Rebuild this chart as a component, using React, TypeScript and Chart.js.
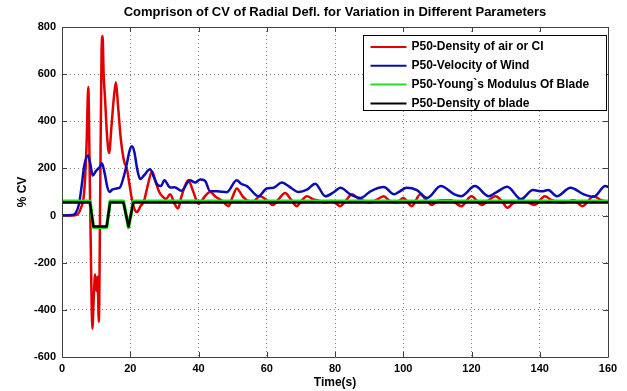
import React, { useEffect, useRef } from 'react';
import { Chart, registerables } from 'chart.js';

Chart.register(...registerables);

const TITLE = 'Comprison of CV of Radial Defl. for Variation in Different Parameters';
const X_TITLE = 'Time(s)';
const Y_TITLE = '% CV';
const SERIES_NAMES = [
  'P50-Density of air or CI',
  'P50-Velocity of Wind',
  'P50-Young`s Modulus Of Blade',
  'P50-Density of blade',
];
const X_TICKS = [0, 20, 40, 60, 80, 100, 120, 140, 160];
const Y_TICKS = [-600, -400, -200, 0, 200, 400, 600, 800];

const redTimes = [0, 3, 4.5, 5.5, 6.5, 7.2, 7.7, 8.1, 8.5, 8.9, 9.3, 9.7, 10.1, 10.4, 10.8, 11.2, 11.6, 11.9, 12.2, 12.6, 13.2, 13.8, 14.5, 15.2, 15.8, 16.4, 17.2, 18.2, 19, 19.8, 20.5, 21.3, 22, 23, 24, 25, 26.4, 27.5, 28.5, 29.5, 30.5, 31.7, 33, 34, 35, 37, 38.5, 40, 41.9, 43.4, 45, 47, 48.8, 50, 51.2, 53, 54.2, 56, 58, 60, 61.8, 63.5, 65.4, 67, 68.8, 70, 71.8, 73.5, 75.5, 77, 79, 81.6, 83, 85, 87, 88.5, 90.4, 92, 94.3, 96, 98, 100, 102.5, 105, 106.5, 108.4, 110, 112, 114, 117, 120, 123, 125, 127, 129, 130.5, 132, 134, 136, 138.5, 141.5, 143.5, 147, 150, 152.5, 155.8, 158, 160];
const redValues = [0, 0, 5, 30, 100, 300, 545, 200, -200, -480, -350, -250, -320, -260, -450, 100, 700, 762, 600, 500, 340, 265, 380, 500, 566, 470, 330, 230, 200, 130, 68, 25, 15, 40, 60, 120, 187, 140, 100, 80, 70, 90, 50, 30, 80, 150, 100, 50, 82, 100, 80, 62, 40, 80, 115, 80, 65, 60, 82, 65, 45, 70, 96, 70, 40, 60, 82, 70, 62, 55, 62, 40, 60, 90, 70, 62, 55, 65, 82, 62, 55, 75, 40, 90, 70, 45, 62, 65, 65, 40, 82, 45, 65, 82, 60, 33, 50, 65, 60, 45, 82, 65, 55, 65, 40, 82, 65, 60];

const blueTimes = [0, 3, 4, 5, 5.8, 6.5, 7.6, 8.3, 9, 10, 11, 11.7, 12.5, 13.3, 14, 14.7, 16, 17, 18, 19, 19.8, 20.5, 21.2, 22, 22.9, 24, 25.8, 27, 28, 29, 30, 31.7, 33, 35, 37.5, 39, 40.5, 41.9, 43.4, 45.4, 48.3, 51.2, 52.5, 54.2, 57.6, 60, 62, 64.4, 66.4, 69.3, 71.8, 74.2, 77.2, 79.6, 81.6, 84.5, 87.5, 90.4, 94.3, 97.3, 99, 101, 104, 107, 111, 115, 117, 121, 125, 127, 130.5, 134.5, 138, 140.6, 142.5, 145, 149, 152.9, 155.8, 159.2, 160];
const blueValues = [0, 2, 10, 50, 130, 210, 255, 220, 170, 190, 205, 222, 180, 120, 100, 110, 115, 120, 160, 220, 275, 294, 270, 200, 155, 170, 196, 160, 130, 125, 150, 119, 120, 105, 150, 140, 153, 148, 103, 103, 99, 150, 135, 125, 82, 115, 118, 140, 125, 100, 110, 135, 82, 99, 118, 90, 75, 103, 121, 90, 103, 118, 108, 75, 125, 90, 82, 125, 82, 96, 122, 70, 108, 103, 108, 82, 118, 90, 80, 125, 122];

const greenTimes = [0, 8.2, 9.2, 13.1, 14.1, 18, 19.5, 20.9, 160];
const greenValues = [61, 61, -50, -50, 61, 61, -50, 61, 61];

const blackTimes = [0, 8.2, 9.2, 13.1, 14.1, 18, 19.5, 20.9, 160];
const blackValues = [55, 55, -46, -46, 55, 55, -46, 55, 55];

const COLORS = ['#e00000', '#0c0cb4', '#1ee01e', '#000000'];
const WIDTHS = [2.5, 2.5, 3.5, 2.5];

const FONT = '"Liberation Sans", Arial, sans-serif';

function toPoints(times: number[], values: number[]) {
  return times.map((t, i) => ({ x: t, y: values[i] }));
}

const framePlugin = {
  id: 'frameAndLegend',
  afterDatasetsDraw(chart: any) {
    const { ctx, chartArea, scales } = chart;
    const { left, right, top, bottom } = chartArea;
    const xs = scales.x;
    const ys = scales.y;
    ctx.save();

    // title centered over the plot area
    ctx.fillStyle = '#000000';
    ctx.font = 'bold 13px ' + FONT;
    ctx.textAlign = 'center';
    ctx.textBaseline = 'middle';
    ctx.fillText(TITLE, (left + right) / 2, 12);

    ctx.strokeStyle = '#404040';
    ctx.lineWidth = 1;
    ctx.beginPath();
    ctx.rect(Math.round(left) + 0.5, Math.round(top) + 0.5, Math.round(right - left), Math.round(bottom - top));
    ctx.stroke();
    const tl = 5;
    ctx.beginPath();
    X_TICKS.forEach((v) => {
      const px = Math.round(xs.getPixelForValue(v)) + 0.5;
      ctx.moveTo(px, bottom);
      ctx.lineTo(px, bottom - tl);
      ctx.moveTo(px, top);
      ctx.lineTo(px, top + tl);
    });
    Y_TICKS.forEach((v) => {
      const py = Math.round(ys.getPixelForValue(v)) + 0.5;
      ctx.moveTo(left, py);
      ctx.lineTo(left + tl, py);
      ctx.moveTo(right, py);
      ctx.lineTo(right - tl, py);
    });
    ctx.stroke();

    // legend
    const bw = 243;
    const bh = 75;
    const bx = Math.round(right - 2 - bw) + 0.5;
    const by = Math.round(top + 8) + 0.5;
    ctx.fillStyle = '#ffffff';
    ctx.fillRect(bx, by, bw, bh);
    ctx.strokeStyle = '#000000';
    ctx.lineWidth = 1;
    ctx.strokeRect(bx, by, bw, bh);
    ctx.font = 'bold 12px ' + FONT;
    ctx.textBaseline = 'middle';
    ctx.textAlign = 'left';
    SERIES_NAMES.forEach((name, i) => {
      const ly = by + 11.5 + i * 18.8;
      ctx.strokeStyle = COLORS[i];
      ctx.lineWidth = 2;
      ctx.beginPath();
      ctx.moveTo(bx + 7, ly);
      ctx.lineTo(bx + 43, ly);
      ctx.stroke();
      ctx.fillStyle = '#000000';
      ctx.fillText(name, bx + 48, ly);
    });
    ctx.restore();
  },
};

export default function App() {
  const ref = useRef<HTMLCanvasElement | null>(null);
  useEffect(() => {
    document.body.style.margin = '0';
    document.body.style.background = '#ffffff';
    const canvas = ref.current;
    if (!canvas) return;
    const seriesTimes = [redTimes, blueTimes, greenTimes, blackTimes];
    const seriesValues = [redValues, blueValues, greenValues, blackValues];
    const chart = new Chart(canvas, {
      type: 'line',
      data: {
        datasets: SERIES_NAMES.map((name, i) => ({
          label: name,
          data: toPoints(seriesTimes[i], seriesValues[i]),
          borderColor: COLORS[i],
          backgroundColor: COLORS[i],
          borderWidth: WIDTHS[i],
          borderJoinStyle: 'round',
          borderCapStyle: 'round',
          pointRadius: 0,
          fill: false,
          cubicInterpolationMode: i < 2 ? 'monotone' : 'default',
          tension: i < 2 ? 0.4 : 0,
          order: 4 - i,
        })),
      },
      options: {
        responsive: false,
        animation: false,
        devicePixelRatio: 1,
        layout: { padding: { left: 0, right: 19, top: 27, bottom: 0 } },
        plugins: {
          legend: { display: false },
          tooltip: { enabled: false },
          title: { display: false },
        },
        scales: {
          x: {
            type: 'linear',
            min: 0,
            max: 160,
            afterFit: (s: any) => { s.height = 34; },
            afterBuildTicks: (s: any) => { s.ticks = X_TICKS.map((v) => ({ value: v })); },
            ticks: {
              color: '#000000',
              font: { family: FONT, size: 11, weight: 'bold' },
              padding: 5,
              maxRotation: 0,
              autoSkip: false,
            },
            grid: {
              color: 'rgba(0,0,0,0.5)',
              lineWidth: 1,
              drawTicks: false,
            },
            border: { display: false, dash: [1, 3] },
            title: {
              display: true,
              text: X_TITLE,
              color: '#000000',
              font: { family: FONT, size: 12, weight: 'bold' },
              padding: { top: 0, bottom: 1 },
            },
          },
          y: {
            type: 'linear',
            min: -600,
            max: 800,
            afterFit: (s: any) => { s.width = 62; },
            afterBuildTicks: (s: any) => { s.ticks = Y_TICKS.map((v) => ({ value: v })); },
            ticks: {
              color: '#000000',
              font: { family: FONT, size: 11, weight: 'bold' },
              padding: 6,
              autoSkip: false,
            },
            grid: {
              color: 'rgba(0,0,0,0.5)',
              lineWidth: 1,
              drawTicks: false,
            },
            border: { display: false, dash: [1, 3] },
            title: {
              display: true,
              text: Y_TITLE,
              color: '#000000',
              font: { family: FONT, size: 12, weight: 'bold' },
              padding: { top: 15, bottom: 0 },
            },
          },
        },
      },
      plugins: [framePlugin],
    } as any);
    return () => chart.destroy();
  }, []);
  return (
    <canvas ref={ref} width={627} height={391} style={{ display: 'block', width: 627, height: 391 }} />
  );
}
